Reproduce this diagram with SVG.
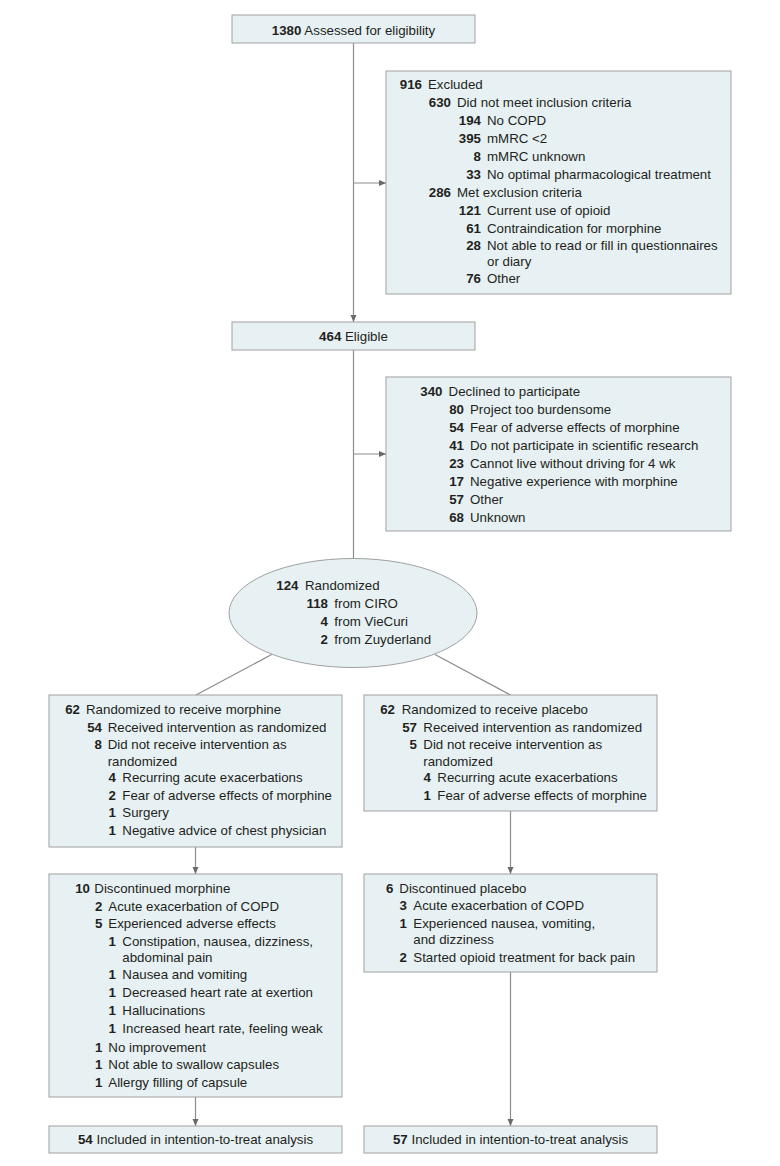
<svg xmlns="http://www.w3.org/2000/svg" width="780" height="1166" viewBox="0 0 780 1166">
<style>
text{font-family:"Liberation Sans",Arial,sans-serif;font-size:13.3px;fill:#231f20}
.n{font-weight:bold;text-anchor:end}
.b{font-weight:bold}
.c{text-anchor:middle}
.box{fill:#e7f1f3;stroke:#a0a0a0;stroke-width:1}
.ln{fill:none;stroke:#8c8c8c;stroke-width:1.2}
</style>
<defs>
<marker id="ah" markerUnits="userSpaceOnUse" markerWidth="8" markerHeight="7" refX="7" refY="3" orient="auto">
<path d="M0,0 L7,3 L0,6 z" fill="#6a6a6a"/>
</marker>
</defs>
<rect width="780" height="1166" fill="#ffffff"/>

<g id="connectors">
<line class="ln" x1="353.5" y1="43" x2="353.5" y2="322" marker-end="url(#ah)"/>
<line class="ln" x1="353.5" y1="183" x2="386" y2="183" marker-end="url(#ah)"/>
<line class="ln" x1="353.5" y1="350" x2="353.5" y2="558.5"/>
<line class="ln" x1="353.5" y1="454" x2="386" y2="454" marker-end="url(#ah)"/>
<line class="ln" x1="271.7" y1="654.5" x2="196" y2="695"/>
<line class="ln" x1="435" y1="654.5" x2="510.5" y2="695"/>
<line class="ln" x1="195.5" y1="847" x2="195.5" y2="874" marker-end="url(#ah)"/>
<line class="ln" x1="510.5" y1="811" x2="510.5" y2="874" marker-end="url(#ah)"/>
<line class="ln" x1="195.5" y1="1097" x2="195.5" y2="1126" marker-end="url(#ah)"/>
<line class="ln" x1="510.5" y1="972" x2="510.5" y2="1126" marker-end="url(#ah)"/>
</g>

<g id="assessed">
<rect class="box" x="232" y="15" width="243" height="28"/>
<text class="c" x="353.5" y="34.5"><tspan class="b">1380</tspan> Assessed for eligibility</text>
</g>

<g id="excluded">
<rect class="box" x="386" y="71" width="345" height="223"/>
<text class="n" x="422" y="89.3">916</text><text x="428" y="89.3">Excluded</text>
<text class="n" x="451" y="107.3">630</text><text x="457" y="107.3">Did not meet inclusion criteria</text>
<text class="n" x="481" y="125.3">194</text><text x="487" y="125.3">No COPD</text>
<text class="n" x="481" y="143.3">395</text><text x="487" y="143.3">mMRC &lt;2</text>
<text class="n" x="481" y="161">8</text><text x="487" y="161">mMRC unknown</text>
<text class="n" x="481" y="179">33</text><text x="487" y="179">No optimal pharmacological treatment</text>
<text class="n" x="451" y="197">286</text><text x="457" y="197">Met exclusion criteria</text>
<text class="n" x="481" y="215">121</text><text x="487" y="215">Current use of opioid</text>
<text class="n" x="481" y="232.7">61</text><text x="487" y="232.7">Contraindication for morphine</text>
<text class="n" x="481" y="249.5">28</text><text x="487" y="249.5">Not able to read or fill in questionnaires</text>
<text x="487" y="265.7">or diary</text>
<text class="n" x="481" y="283.3">76</text><text x="487" y="283.3">Other</text>
</g>

<g id="eligible">
<rect class="box" x="232" y="322" width="243" height="28"/>
<text class="c" x="353.5" y="340.5"><tspan class="b">464</tspan> Eligible</text>
</g>

<g id="declined">
<rect class="box" x="386" y="377" width="345" height="154"/>
<text class="n" x="442.5" y="395.7">340</text><text x="448.6" y="395.7">Declined to participate</text>
<text class="n" x="464" y="413.7">80</text><text x="470" y="413.7">Project too burdensome</text>
<text class="n" x="464" y="431.7">54</text><text x="470" y="431.7">Fear of adverse effects of morphine</text>
<text class="n" x="464" y="449.7">41</text><text x="470" y="449.7">Do not participate in scientific research</text>
<text class="n" x="464" y="467.7">23</text><text x="470" y="467.7">Cannot live without driving for 4 wk</text>
<text class="n" x="464" y="485.7">17</text><text x="470" y="485.7">Negative experience with morphine</text>
<text class="n" x="464" y="503.7">57</text><text x="470" y="503.7">Other</text>
<text class="n" x="464" y="521.7">68</text><text x="470" y="521.7">Unknown</text>
</g>

<g id="randomized">
<ellipse class="box" cx="353" cy="613" rx="124" ry="54.5"/>
<text class="n" x="298.5" y="590">124</text><text x="305" y="590">Randomized</text>
<text class="n" x="328" y="608">118</text><text x="334.3" y="608">from CIRO</text>
<text class="n" x="328" y="626">4</text><text x="334.3" y="626">from VieCuri</text>
<text class="n" x="328" y="644">2</text><text x="334.3" y="644">from Zuyderland</text>
</g>

<g id="morphine">
<rect class="box" x="49" y="695" width="293" height="152"/>
<text class="n" x="80" y="714">62</text><text x="86" y="714">Randomized to receive morphine</text>
<text class="n" x="102" y="731.7">54</text><text x="107.7" y="731.7">Received intervention as randomized</text>
<text class="n" x="102" y="749.3">8</text><text x="107.7" y="749.3">Did not receive intervention as</text>
<text x="107.7" y="765.5">randomized</text>
<text class="n" x="116" y="782">4</text><text x="122.3" y="782">Recurring acute exacerbations</text>
<text class="n" x="116" y="799.5">2</text><text x="122.3" y="799.5">Fear of adverse effects of morphine</text>
<text class="n" x="116" y="817">1</text><text x="122.3" y="817">Surgery</text>
<text class="n" x="116" y="834.5">1</text><text x="122.3" y="834.5">Negative advice of chest physician</text>
</g>

<g id="placebo">
<rect class="box" x="364" y="695" width="293" height="116"/>
<text class="n" x="395" y="714">62</text><text x="401.7" y="714">Randomized to receive placebo</text>
<text class="n" x="417" y="731.7">57</text><text x="423.3" y="731.7">Received intervention as randomized</text>
<text class="n" x="417" y="749.3">5</text><text x="423.3" y="749.3">Did not receive intervention as</text>
<text x="423.3" y="765.5">randomized</text>
<text class="n" x="431" y="782">4</text><text x="437.3" y="782">Recurring acute exacerbations</text>
<text class="n" x="431" y="799.5">1</text><text x="437.3" y="799.5">Fear of adverse effects of morphine</text>
</g>

<g id="disc-morphine">
<rect class="box" x="49" y="874" width="293" height="223"/>
<text class="n" x="90" y="893.3">10</text><text x="94.3" y="893.3">Discontinued morphine</text>
<text class="n" x="102.5" y="910.7">2</text><text x="108.3" y="910.7">Acute exacerbation of COPD</text>
<text class="n" x="102.5" y="928.3">5</text><text x="108.3" y="928.3">Experienced adverse effects</text>
<text class="n" x="116" y="946">1</text><text x="122.3" y="946">Constipation, nausea, dizziness,</text>
<text x="122.3" y="961.7">abdominal pain</text>
<text class="n" x="116" y="979.3">1</text><text x="122.3" y="979.3">Nausea and vomiting</text>
<text class="n" x="116" y="997.3">1</text><text x="122.3" y="997.3">Decreased heart rate at exertion</text>
<text class="n" x="116" y="1015.3">1</text><text x="122.3" y="1015.3">Hallucinations</text>
<text class="n" x="116" y="1033.3">1</text><text x="122.3" y="1033.3">Increased heart rate, feeling weak</text>
<text class="n" x="102.5" y="1051.7">1</text><text x="108.3" y="1051.7">No improvement</text>
<text class="n" x="102.5" y="1069.3">1</text><text x="108.3" y="1069.3">Not able to swallow capsules</text>
<text class="n" x="102.5" y="1087.3">1</text><text x="108.3" y="1087.3">Allergy filling of capsule</text>
</g>

<g id="disc-placebo">
<rect class="box" x="364" y="874" width="293" height="98"/>
<text class="n" x="393.5" y="892.7">6</text><text x="399.3" y="892.7">Discontinued placebo</text>
<text class="n" x="407" y="910.3">3</text><text x="413.3" y="910.3">Acute exacerbation of COPD</text>
<text class="n" x="407" y="928.3">1</text><text x="413.3" y="928.3">Experienced nausea, vomiting,</text>
<text x="413.3" y="943.5">and dizziness</text>
<text class="n" x="407" y="961.7">2</text><text x="413.3" y="961.7">Started opioid treatment for back pain</text>
</g>

<g id="itt-morphine">
<rect class="box" x="49" y="1126" width="293" height="27"/>
<text class="c" x="195.5" y="1143.5"><tspan class="b">54</tspan> Included in intention-to-treat analysis</text>
</g>

<g id="itt-placebo">
<rect class="box" x="364" y="1126" width="293" height="27"/>
<text class="c" x="510.5" y="1143.5"><tspan class="b">57</tspan> Included in intention-to-treat analysis</text>
</g>
</svg>
